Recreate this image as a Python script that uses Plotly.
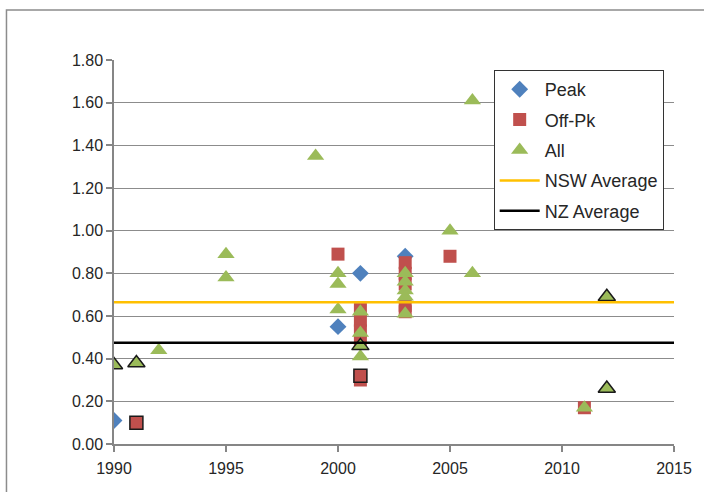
import plotly.graph_objects as go

# ---- data ----
peak_x = [1990, 2000, 2001, 2003]
peak_y = [0.11, 0.55, 0.80, 0.88]

offpk_x = [2000, 2001, 2001, 2001, 2001, 2001, 2003, 2003, 2003, 2003, 2003, 2005, 2011]
offpk_y = [0.89, 0.63, 0.58, 0.53, 0.48, 0.30, 0.85, 0.80, 0.75, 0.65, 0.62, 0.88, 0.17]
offpk_nz_x = [1991, 2001]
offpk_nz_y = [0.10, 0.32]

all_x = [1992, 1995, 1995, 1999, 2000, 2000, 2000, 2001, 2001, 2001, 2003, 2003, 2003, 2003, 2003, 2005, 2006, 2006, 2011]
all_y = [0.44, 0.89, 0.78, 1.35, 0.80, 0.75, 0.63, 0.62, 0.52, 0.41, 0.80, 0.76, 0.72, 0.69, 0.61, 1.00, 1.61, 0.80, 0.17]
all_nz_x = [1990, 1991, 2001, 2012, 2012]
all_nz_y = [0.37, 0.38, 0.46, 0.69, 0.26]

nsw_avg = 0.665
nz_avg = 0.475
x_range = [1990, 2015]
x_ticks = [1990, 1995, 2000, 2005, 2010, 2015]
y_ticks = [0.0, 0.2, 0.4, 0.6, 0.8, 1.0, 1.2, 1.4, 1.6, 1.8]

BLUE = "#4F81BD"
RED = "#C0504D"
GREEN = "#9BBB59"
FONT = "Liberation Sans, Arial, sans-serif"

fig = go.Figure()
fig.add_trace(go.Scatter(x=peak_x, y=peak_y, mode="markers", name="Peak", legendgroup="a",
                         marker=dict(symbol="diamond", size=13, color=BLUE, line=dict(width=0))))
fig.add_trace(go.Scatter(x=offpk_x, y=offpk_y, mode="markers", name="Off-Pk", legendgroup="b",
                         marker=dict(symbol="square", size=13, color=RED, line=dict(width=0))))
fig.add_trace(go.Scatter(x=offpk_nz_x, y=offpk_nz_y, mode="markers", name="Off-Pk", legendgroup="b",
                         showlegend=False,
                         marker=dict(symbol="square", size=13, color=RED, line=dict(width=1.5, color="#1a1a1a"))))
fig.add_trace(go.Scatter(x=all_x, y=all_y, mode="markers", name="All", legendgroup="c",
                         marker=dict(symbol="triangle-up", size=15, color=GREEN, line=dict(width=0))))
fig.add_trace(go.Scatter(x=all_nz_x, y=all_nz_y, mode="markers", name="All", legendgroup="c",
                         showlegend=False,
                         marker=dict(symbol="triangle-up", size=15, color=GREEN, line=dict(width=1.5, color="#1a1a1a"))))
fig.add_trace(go.Scatter(x=x_range, y=[nsw_avg, nsw_avg], mode="lines", name="NSW Average", legendgroup="d",
                         line=dict(color="#FFC000", width=2.5)))
fig.add_trace(go.Scatter(x=x_range, y=[nz_avg, nz_avg], mode="lines", name="NZ Average", legendgroup="e",
                         line=dict(color="#000000", width=2.5)))

fig.update_layout(
    width=704, height=492,
    margin=dict(l=114, r=28, t=60, b=48),
    paper_bgcolor="white", plot_bgcolor="white",
    font=dict(family=FONT, size=16, color="#262626"),
    showlegend=True,
    legend=dict(x=0.678, y=0.974, xanchor="left", yanchor="top",
                bgcolor="white", bordercolor="#333333", borderwidth=1,
                font=dict(size=18, color="#262626"),
                traceorder="grouped", tracegroupgap=4, itemwidth=40),
    shapes=[dict(type="rect", xref="paper", yref="paper",
                 x0=-0.192, x1=1.3, y0=-0.3, y1=1.13,
                 line=dict(color="#8c8c8c", width=1.5), layer="below")],
)
fig.update_xaxes(range=x_range, tickvals=x_ticks, showgrid=False, zeroline=False,
                 showline=True, linecolor="#868686", linewidth=1.5,
                 ticks="outside", ticklen=6, tickcolor="#868686", tickwidth=1.5,
                 ticklabelstandoff=3)
fig.update_yaxes(range=[0, 1.8], tickvals=y_ticks, tickformat=".2f",
                 showgrid=True, gridcolor="#8c8c8c", gridwidth=1.2, zeroline=False,
                 showline=True, linecolor="#868686", linewidth=1.5,
                 ticks="outside", ticklen=6, tickcolor="#868686", tickwidth=1.5)

fig.write_html("out.html", config={"displayModeBar": False},
               post_script="document.body.style.margin='0px';document.body.style.overflow='hidden';")
